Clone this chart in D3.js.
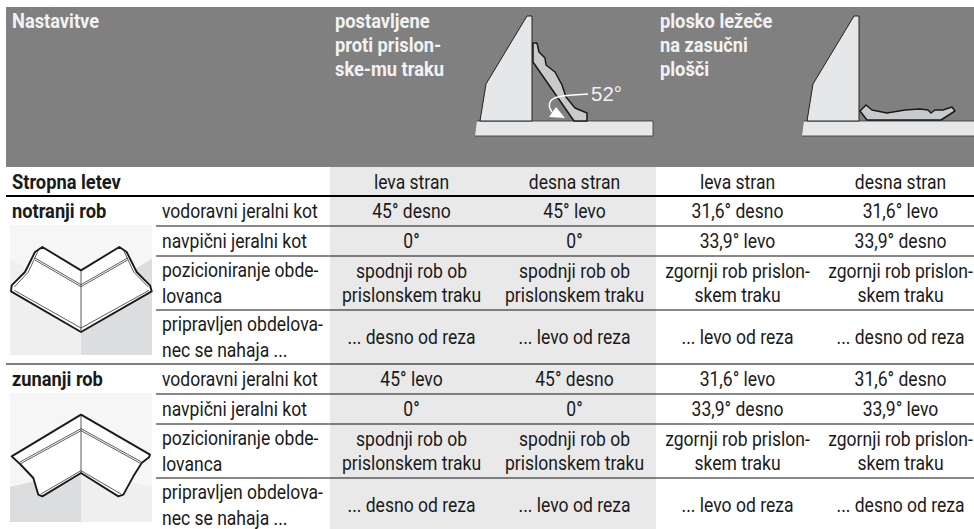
<!DOCTYPE html>
<html>
<head>
<meta charset="utf-8">
<script src="https://cdn.jsdelivr.net/npm/d3@7"></script>
<style>
  html, body { margin: 0; padding: 0; background: #fff; overflow: hidden; }
  svg { display: block; }
  text { font-family: "Roboto", sans-serif; fill: #1a1a1a; }
</style>
</head>
<body>
<div id="container"></div>
<script>
/* DATA */
const columnKeys = ["a", "b", "c", "d"];
const sideLabels = ["leva stran", "desna stran", "leva stran", "desna stran"];
const headerGroups = [
  ["postavljene", "proti prislon-", "ske-mu traku"],
  ["plosko ležeče", "na zasučni", "plošči"]
];
const rowLabels = [
  ["vodoravni jeralni kot"],
  ["navpični jeralni kot"],
  ["pozicioniranje obde-", "lovanca"],
  ["pripravljen obdelova-", "nec se nahaja ..."]
];
const innerValues = [
  [["45° desno"], ["45° levo"], ["31,6° desno"], ["31,6° levo"]],
  [["0°"], ["0°"], ["33,9° levo"], ["33,9° desno"]],
  [["spodnji rob ob", "prislonskem traku"], ["spodnji rob ob", "prislonskem traku"], ["zgornji rob prislon-", "skem traku"], ["zgornji rob prislon-", "skem traku"]],
  [["... desno od reza"], ["... levo od reza"], ["... levo od reza"], ["... desno od reza"]]
];
const outerValues = [
  [["45° levo"], ["45° desno"], ["31,6° levo"], ["31,6° desno"]],
  [["0°"], ["0°"], ["33,9° desno"], ["33,9° levo"]],
  [["spodnji rob ob", "prislonskem traku"], ["spodnji rob ob", "prislonskem traku"], ["zgornji rob prislon-", "skem traku"], ["zgornji rob prislon-", "skem traku"]],
  [["... desno od reza"], ["... levo od reza"], ["... levo od reza"], ["... desno od reza"]]
];

// drawing outlines, in the units of each little figure
const fenceShape = [[0, 105], [6, 68], [47, 0], [52, 0], [52, 105]];
const baseShape = [[-3, 105], [173, 105], [173, 120], [-5, 120]];
const upMolding = [[53, 27], [57, 27], [59, 36], [65, 42], [66, 49], [75, 56], [82, 69], [86, 81], [95, 92], [107, 97], [107, 105], [94, 105], [53, 46]];
const flatMolding = [[53, 95], [59, 89], [65, 94], [80, 97], [98, 94], [113, 93], [121, 94], [124, 97], [128, 94], [136, 94], [145, 91], [148, 95], [134, 104], [60, 104]];
const innerOutline = [[112, 75], [228, 145], [343, 75], [365, 90], [395, 150], [435, 190], [440, 208], [228, 330], [18, 208], [20, 190], [60, 150], [90, 90]];
const innerLines = [
  [[90, 108], [228, 188], [368, 108]],
  [[90, 114], [228, 194], [368, 114]],
  [[28, 205], [228, 318], [432, 205]],
  [[100, 85], [70, 150], [28, 195]],
  [[356, 85], [386, 150], [430, 195]],
  [[228, 145], [228, 330]]
];
const outerOutline = [[228, 80], [435, 200], [432, 208], [410, 225], [385, 265], [355, 320], [340, 325], [228, 255], [112, 325], [100, 320], [85, 270], [45, 228], [20, 205]];
const outerLines = [
  [[45, 222], [228, 122], [410, 222]],
  [[45, 228], [228, 128], [410, 228]],
  [[108, 318], [228, 248], [348, 318]],
  [[228, 80], [228, 255]]
];

/* CONSTANTS AND GLOBALS */
const width = 974;
const height = 529;
const lineHeight = 24;
const labelLineHeight = 26;
const fontSize = 20.5;
const boldSize = 21;
const squeeze = 0.855;
const boldSqueeze = 0.87;
const rowHeights = [30, 30, 54, 54];

const svg = d3.select("#container")
  .append("svg")
  .attr("width", width)
  .attr("height", height);

/* SCALES */
const xScale = d3.scaleBand()
  .domain(columnKeys)
  .range([330, 982]);

function rowEdges(top) {
  return d3.cumsum([top].concat(rowHeights));
}

/* HELPERS */
// no condensed face is installed so the text gets squeezed horizontally
function writeLines(lines, x, yMid, anchor, opts = {}) {
  const sx = opts.bold ? boldSqueeze : squeeze;
  const lh = opts.lineHeight || lineHeight;
  svg.append("g")
    .selectAll("text")
    .data(lines)
    .join("text")
    .attr("transform", (d, i) => {
      const y = yMid + (i - (lines.length - 1) / 2) * lh + 7;
      return `translate(${x},${y}) scale(${sx},1)`;
    })
    .attr("text-anchor", anchor)
    .attr("font-size", opts.bold ? boldSize : fontSize)
    .attr("font-weight", opts.bold ? 700 : 400)
    .style("fill", opts.fill || null)
    .text(d => d);
}

function drawShape(parent, points, x0, y0, k, fill, stroke, strokeWidth, closed) {
  const sx = d3.scaleLinear().domain([0, 1]).range([x0, x0 + k]);
  const sy = d3.scaleLinear().domain([0, 1]).range([y0, y0 + k]);
  const line = d3.line().x(d => sx(d[0])).y(d => sy(d[1]))
    .curve(closed ? d3.curveLinearClosed : d3.curveLinear);
  parent.append("path")
    .attr("d", line(points))
    .attr("fill", fill)
    .attr("stroke", stroke)
    .attr("stroke-width", strokeWidth)
    .attr("stroke-linejoin", "round");
}

/* BACKGROUNDS */
svg.append("rect").attr("x", 6).attr("y", 7).attr("width", width - 6).attr("height", 160).attr("fill", "#808080");
svg.append("rect").attr("x", xScale("a")).attr("y", 167)
  .attr("width", xScale.bandwidth() * 2).attr("height", height - 167).attr("fill", "#e9e9e9");

/* HEADER */
writeLines(["Nastavitve"], 12, 21, "start", { bold: true, fill: "#f2f2f2" });
writeLines(headerGroups[0], 335, 45, "start", { bold: true, fill: "#f2f2f2" });
writeLines(headerGroups[1], 660, 45, "start", { bold: true, fill: "#f2f2f2" });

const art = svg.append("g");
drawShape(art, baseShape, 480, 16, 1, "#e6e7e9", "#333", 0.8, false);
drawShape(art, fenceShape, 480, 16, 1, "#e6e7e9", "#222", 1, true);
drawShape(art, upMolding, 480, 16, 1, "#c9cacc", "#1a1a1a", 1.5, true);
drawShape(art, baseShape, 807, 16, 1, "#e6e7e9", "#333", 0.8, false);
drawShape(art, fenceShape, 807, 16, 1, "#e6e7e9", "#222", 1, true);
drawShape(art, flatMolding, 807, 16, 1, "#c9cacc", "#1a1a1a", 1.5, true);

// 52 degree arrow
art.append("path")
  .attr("d", d3.line().curve(d3.curveBasis)([[588, 94], [570, 95], [552, 97], [548, 106], [552, 112]]))
  .attr("fill", "none").attr("stroke", "#fff").attr("stroke-width", 1.5);
art.append("path")
  .attr("d", d3.line().curve(d3.curveLinearClosed)([[556, 107], [565, 118], [549, 117]]))
  .attr("fill", "#fff");
art.append("text")
  .attr("x", 591).attr("y", 101)
  .attr("font-size", 20.5)
  .style("font-family", "'Liberation Sans', sans-serif")
  .style("fill", "#f2f2f2")
  .text("52°");

/* TOP ROW */
writeLines(["Stropna letev"], 12, 182, "start", { bold: true });
sideLabels.forEach((d, i) => {
  writeLines([d], xScale(columnKeys[i]) + xScale.bandwidth() / 2, 182, "middle");
});

/* TABLE BLOCKS */
function drawBlock(top, title, values) {
  const edges = rowEdges(top);

  writeLines([title], 12, top + 15, "start", { bold: true });

  rowLabels.forEach((lines, r) => {
    const yMid = (edges[r] + edges[r + 1]) / 2;
    writeLines(lines, 162, yMid, "start", { lineHeight: labelLineHeight });
    values[r].forEach((cell, c) => {
      writeLines(cell, xScale(columnKeys[c]) + xScale.bandwidth() / 2, yMid, "middle");
    });
  });

  svg.append("g")
    .selectAll("line")
    .data(edges.slice(1, 4))
    .join("line")
    .attr("x1", 156).attr("x2", width)
    .attr("y1", d => d).attr("y2", d => d)
    .attr("stroke", "#111").attr("stroke-width", 1);
}

drawBlock(196, "notranji rob", innerValues);
drawBlock(364, "zunanji rob", outerValues);

// heavy rules
svg.append("line").attr("x1", 6).attr("x2", width).attr("y1", 196).attr("y2", 196).attr("stroke", "#000").attr("stroke-width", 2);
svg.append("line").attr("x1", 6).attr("x2", width).attr("y1", 364).attr("y2", 364).attr("stroke", "#000").attr("stroke-width", 1.2);

/* CORNER FIGURES */
function drawCorner(top, boxH, leftFill, rightFill, valley) {
  const g = svg.append("g");
  const fx = 10, fw = 142;
  g.append("rect").attr("x", fx).attr("y", top).attr("width", fw).attr("height", boxH).attr("fill", "#f6f6f6");
  const mid = fx + fw / 2;
  g.append("path").attr("fill", leftFill)
    .attr("d", d3.line()([[fx, valley[0]], [mid, valley[1]], [mid, top + boxH], [fx, top + boxH]]));
  g.append("path").attr("fill", rightFill)
    .attr("d", d3.line()([[fx + fw, valley[0]], [mid, valley[1]], [mid, top + boxH], [fx + fw, top + boxH]]));
  return g;
}

const innerFig = drawCorner(225, 130, "#efefef", "#dcdddf", [259, 300]);
drawShape(innerFig, innerOutline, 5, 222, 1 / 3, "#fff", "#1a1a1a", 1.9, true);
innerLines.forEach(l => drawShape(innerFig, l, 5, 222, 1 / 3, "none", "#333", 0.8, false));

const outerFig = drawCorner(393, 129, "#dcdddf", "#efefef", [487, 470]);
drawShape(outerFig, outerOutline, 5, 388, 1 / 3, "#fff", "#1a1a1a", 1.9, true);
outerLines.forEach(l => drawShape(outerFig, l, 5, 388, 1 / 3, "none", "#333", 0.8, false));
</script>
</body>
</html>
